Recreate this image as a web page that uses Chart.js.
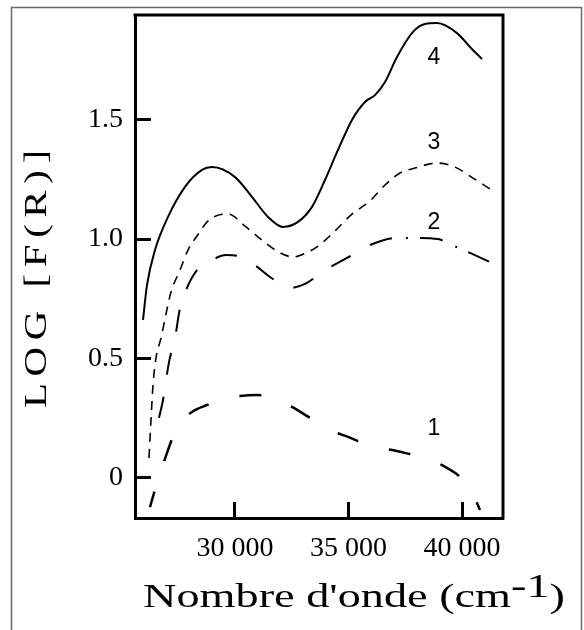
<!DOCTYPE html>
<html>
<head>
<meta charset="utf-8">
<script src="https://cdn.jsdelivr.net/npm/chart.js@4.4.1/dist/chart.umd.min.js"></script>
<style>
  html, body { margin: 0; padding: 0; background: #fff; }
  canvas { display: block; }
</style>
</head>
<body>
<canvas id="c" width="584" height="630"></canvas>
<script>
// Wavenumber (cm-1) and LOG[F(R)] for each diffuse-reflectance curve
const curve1X = [26260, 26568, 27009, 27273, 27713, 28109, 28769, 29430, 30222, 30970, 31763, 32511, 33524, 34184, 34976, 36077, 36913, 37706, 38586, 39114, 39818, 40347, 40787];
const curve1Y = [-0.124, -0.023, 0.103, 0.170, 0.241, 0.275, 0.304, 0.329, 0.342, 0.346, 0.334, 0.296, 0.237, 0.199, 0.170, 0.128, 0.115, 0.098, 0.078, 0.052, 0.010, -0.044, -0.136];

const curve2X = [26656, 26833, 27097, 27361, 27581, 27845, 28329, 28990, 29606, 30266, 30926, 31543, 32423, 33083, 33964, 34932, 35945, 37133, 38058, 38938, 39554, 40347, 41315];
const curve2Y = [0.250, 0.325, 0.484, 0.585, 0.711, 0.786, 0.870, 0.912, 0.933, 0.925, 0.887, 0.841, 0.795, 0.812, 0.870, 0.921, 0.975, 1.005, 1.005, 1.000, 0.975, 0.942, 0.900];

const curve3X = [26216, 26304, 26392, 26524, 26745, 26965, 27185, 27581, 27933, 28329, 28857, 29694, 30486, 31190, 31851, 32555, 33127, 33612, 34404, 35152, 35945, 36605, 37265, 37925, 38894, 39686, 40479, 41359];
const curve3Y = [0.082, 0.241, 0.388, 0.501, 0.585, 0.686, 0.778, 0.870, 0.954, 1.013, 1.080, 1.105, 1.051, 0.996, 0.950, 0.925, 0.942, 0.967, 1.034, 1.105, 1.160, 1.227, 1.277, 1.298, 1.319, 1.302, 1.256, 1.202];

const curve4X = [25952, 26128, 26480, 27053, 27801, 28549, 28989, 30002, 30750, 31455, 32115, 32775, 33392, 33964, 34536, 35152, 35725, 36165, 36605, 37133, 37838, 38366, 38894, 39774, 40347, 40875];
const curve4Y = [0.661, 0.807, 0.954, 1.093, 1.219, 1.290, 1.302, 1.260, 1.177, 1.093, 1.051, 1.072, 1.135, 1.248, 1.374, 1.500, 1.575, 1.604, 1.659, 1.764, 1.869, 1.902, 1.906, 1.864, 1.806, 1.755];

// Axis ranges and ticks
const xMin = 25600, xMax = 41800;
const yMin = -0.17, yMax = 1.94;
const xTickValues = [30000, 35000, 40000];
const xTickLabels = ['30 000', '35 000', '40 000'];
const yTickValues = [0, 0.5, 1.0, 1.5];
const yTickLabels = ['0', '0.5', '1.0', '1.5'];

// Curve numbers, anchored in data units
const curveNames = ['1', '2', '3', '4'];
const curveNameX = [38760, 38760, 38760, 38760];
const curveNameY = [0.203, 1.067, 1.403, 1.760];

const xTitleMain = "Nombre d'onde (cm";
const xTitleSup = '-1';
const xTitleEnd = ')';
const yTitle = 'LOG [F(R)]';

const SERIF = "'Liberation Serif', 'Times New Roman', 'DejaVu Serif', serif";
const SANS = "'Liberation Sans', Arial, Helvetica, sans-serif";

const pts = (xs, ys) => xs.map((x, i) => ({ x, y: ys[i] }));

// Page frame, plot box (top/right sides), curve numbers and widened axis titles
const decorations = {
  id: 'decorations',
  beforeDraw(chart) {
    const ctx = chart.ctx;
    ctx.save();
    ctx.fillStyle = '#fff';
    ctx.fillRect(0, 0, chart.width, chart.height);
    ctx.strokeStyle = '#6a6a6a';
    ctx.lineWidth = 1.5;
    ctx.strokeRect(11.5, 7.5, 570, 640);
    ctx.restore();
  },
  afterDraw(chart) {
    const ctx = chart.ctx;
    const a = chart.chartArea;
    const xs = chart.scales.x, ys = chart.scales.y;
    ctx.save();
    ctx.strokeStyle = '#000';
    ctx.lineWidth = 3;
    ctx.beginPath();
    ctx.moveTo(a.left - 1.5, a.top);
    ctx.lineTo(a.right, a.top);
    ctx.lineTo(a.right, a.bottom + 1.5);
    ctx.stroke();

    ctx.fillStyle = '#000';
    ctx.font = '23px ' + SANS;
    ctx.textAlign = 'center';
    ctx.textBaseline = 'middle';
    curveNames.forEach((t, i) => {
      ctx.fillText(t, xs.getPixelForValue(curveNameX[i]), ys.getPixelForValue(curveNameY[i]));
    });

    // x-axis title with raised exponent, widened type
    ctx.textAlign = 'left';
    ctx.textBaseline = 'alphabetic';
    ctx.font = '33px ' + SERIF;
    const w1 = ctx.measureText(xTitleMain).width;
    const w2 = ctx.measureText(xTitleSup).width;
    const w3 = ctx.measureText(xTitleEnd).width;
    const sx = 422 / (w1 + w2 + w3);
    ctx.save();
    ctx.translate(143, 607);
    ctx.scale(sx, 1);
    ctx.fillText(xTitleMain, 0, 0);
    ctx.fillText(xTitleSup, w1, -10);
    ctx.fillText(xTitleEnd, w1 + w2, 0);
    ctx.restore();

    // y-axis title, rotated, widened and lightly letter-spaced
    ctx.font = '31px ' + SERIF;
    const stretch = 1.32;
    const nat = ctx.measureText(yTitle).width * stretch;
    const gap = Math.max(0, (258 - nat) / (yTitle.length - 1) / stretch);
    ctx.letterSpacing = gap.toFixed(2) + 'px';
    const wy = ctx.measureText(yTitle).width - gap;
    ctx.save();
    ctx.translate(46, 279);
    ctx.rotate(-Math.PI / 2);
    ctx.scale(stretch, 1);
    ctx.textAlign = 'left';
    ctx.fillText(yTitle, -wy / 2, 0);
    ctx.restore();
    ctx.letterSpacing = '0px';
    ctx.restore();
  }
};

const tickFont = { family: SERIF, size: 28 };

new Chart(document.getElementById('c'), {
  type: 'line',
  data: {
    datasets: [
      {
        label: '1', data: pts(curve1X, curve1Y),
        borderColor: '#000', borderWidth: 2.5, borderDash: [22, 32], borderDashOffset: 6
      },
      {
        label: '2', data: pts(curve2X, curve2Y),
        borderColor: '#000', borderWidth: 2, borderDash: [22, 22],
        segment: {
          borderDash: c => c.p0.parsed.x >= 35900 ? [23, 14, 2, 12] : undefined
        }
      },
      {
        label: '3', data: pts(curve3X, curve3Y),
        borderColor: '#000', borderWidth: 1.6, borderDash: [9, 7]
      },
      {
        label: '4', data: pts(curve4X, curve4Y),
        borderColor: '#000', borderWidth: 2
      }
    ]
  },
  options: {
    responsive: false,
    animation: false,
    devicePixelRatio: 1,
    elements: {
      point: { radius: 0, hoverRadius: 0 },
      line: { cubicInterpolationMode: 'monotone', fill: false, borderCapStyle: 'butt' }
    },
    layout: { padding: { left: 0, top: 15, right: 81, bottom: 0 } },
    plugins: {
      legend: { display: false },
      tooltip: { enabled: false },
      title: { display: false }
    },
    scales: {
      x: {
        type: 'linear', min: xMin, max: xMax,
        afterBuildTicks: s => { s.ticks = xTickValues.map(v => ({ value: v })); },
        afterFit: s => { s.height = 112; s.paddingLeft = 0; s.paddingRight = 0; },
        ticks: {
          callback: (v, i) => xTickLabels[i],
          font: tickFont, color: '#000', padding: 30,
          maxRotation: 0, autoSkip: false
        },
        grid: {
          display: true, drawOnChartArea: false, drawTicks: true,
          tickLength: -16, tickWidth: 3, tickColor: '#000'
        },
        border: { display: true, width: 3, color: '#000' }
      },
      y: {
        type: 'linear', min: yMin, max: yMax,
        afterBuildTicks: s => { s.ticks = yTickValues.map(v => ({ value: v })); },
        afterFit: s => { s.width = 135; s.paddingTop = 0; s.paddingBottom = 0; },
        ticks: {
          callback: (v, i) => yTickLabels[i],
          font: tickFont, color: '#000', padding: 28, autoSkip: false
        },
        grid: {
          display: true, drawOnChartArea: false, drawTicks: true,
          tickLength: -16, tickWidth: 3, tickColor: '#000'
        },
        border: { display: true, width: 3, color: '#000' }
      }
    }
  },
  plugins: [decorations]
});
</script>
</body>
</html>
